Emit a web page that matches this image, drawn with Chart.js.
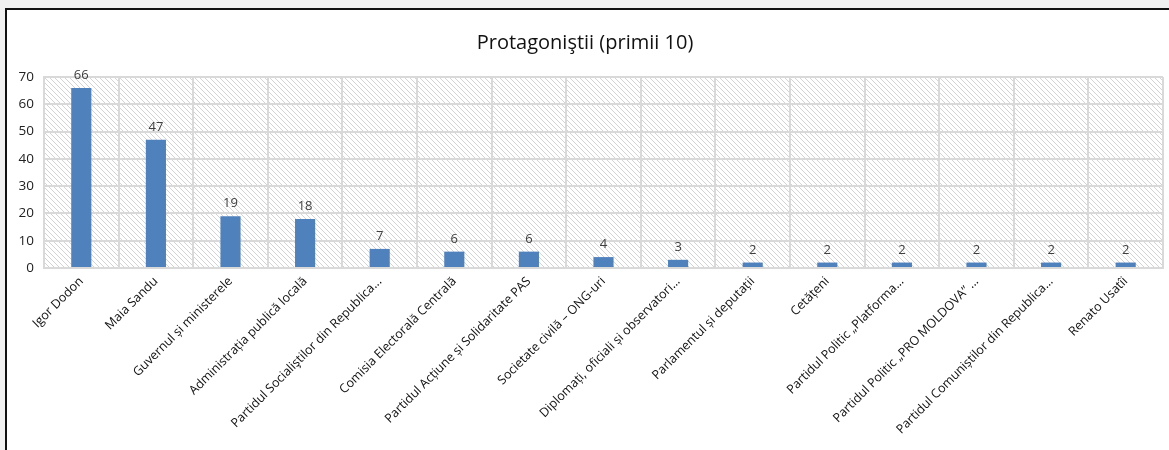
<!DOCTYPE html>
<html>
<head>
<meta charset="utf-8">
<script src="https://cdn.jsdelivr.net/npm/chart.js@4"></script>
<style>
  html, body { margin: 0; padding: 0; background: #f0f0f0; overflow: hidden; }
  #box { position: absolute; left: 5px; top: 8px; width: 1170px; height: 450px; background: #fff;
         border-left: 2px solid #111; border-top: 2px solid #111; }
  #wrap { position: absolute; left: 0; top: 0; width: 1162px; height: 440px; }
</style>
</head>
<body>
<div id="box"><div id="wrap"><canvas id="chart"></canvas></div></div>
<script>
// Protagoniştii (primii 10)
const categories = [
  'Igor Dodon', 'Maia Sandu', 'Guvernul și ministerele', 'Administrația publică locală',
  'Partidul Socialiştilor din Republica...', 'Comisia Electorală Centrală',
  'Partidul Acțiune și Solidaritate PAS', 'Societate civilă – ONG-uri',
  'Diplomați, oficiali și observatori...', 'Parlamentul și deputații', 'Cetățeni',
  'Partidul Politic „Platforma...', 'Partidul Politic „PRO MOLDOVA” ...',
  'Partidul Comuniștilor din Republica...', 'Renato Usatîi'
];
const values = [66, 47, 19, 18, 7, 6, 6, 4, 3, 2, 2, 2, 2, 2, 2];
const yTicks = [0, 10, 20, 30, 40, 50, 60, 70];

const FONT = 'Open Sans, Liberation Sans, sans-serif';

// diagonal hatch for plot area background
function makeHatch() {
  const c = document.createElement('canvas');
  c.width = 5; c.height = 5;
  const g = c.getContext('2d');
  g.fillStyle = '#fff';
  g.fillRect(0, 0, 5, 5);
  g.strokeStyle = '#d3d3d3';
  g.lineWidth = 1;
  g.beginPath();
  g.moveTo(0, 0); g.lineTo(5, 5);
  g.moveTo(-2.5, 2.5); g.lineTo(2.5, 7.5);
  g.moveTo(2.5, -2.5); g.lineTo(7.5, 2.5);
  g.stroke();
  return g.createPattern(c, 'repeat');
}

const hatchBg = {
  id: 'hatchBg',
  beforeDraw(chart) {
    const { ctx, chartArea: a } = chart;
    ctx.save();
    ctx.fillStyle = makeHatch();
    ctx.fillRect(a.left, a.top, a.right - a.left, a.bottom - a.top);
    ctx.restore();
  }
};

const valueLabels = {
  id: 'valueLabels',
  afterDatasetsDraw(chart) {
    const { ctx } = chart;
    const meta = chart.getDatasetMeta(0);
    ctx.save();
    ctx.font = '13px ' + FONT;
    ctx.fillStyle = '#404040';
    ctx.textAlign = 'center';
    ctx.textBaseline = 'bottom';
    meta.data.forEach((bar, i) => {
      ctx.fillText(values[i], bar.x, bar.y - 6);
    });
    ctx.restore();
  }
};

new Chart(document.getElementById('chart'), {
  type: 'bar',
  data: {
    labels: categories,
    datasets: [{
      data: values,
      backgroundColor: '#4f81bd',
      barPercentage: 0.27,
      categoryPercentage: 1
    }]
  },
  options: {
    responsive: true,
    maintainAspectRatio: false,
    animation: false,
    layout: { padding: { top: 0, right: 6, left: 0, bottom: 0 } },
    plugins: {
      legend: { display: false },
      tooltip: { enabled: false },
      title: {
        display: true,
        text: 'Protagoniştii (primii 10)',
        color: '#111',
        font: { family: FONT, size: 20, weight: 'normal' },
        padding: { top: 21, bottom: 22 }
      }
    },
    scales: {
      x: {
        grid: { color: '#d9d9d9', lineWidth: 2, offset: true, drawTicks: false },
        border: { color: '#d9d9d9', width: 2 },
        ticks: {
          color: '#111',
          font: { family: FONT, size: 12.5 },
          minRotation: 45, maxRotation: 45,
          autoSkip: false, padding: 6
        },
        afterFit(s) { s.height = 182; }
      },
      y: {
        min: 0, max: 70,
        afterBuildTicks(s) { s.ticks = yTicks.map(v => ({ value: v })); },
        grid: { color: '#d9d9d9', lineWidth: 2, drawTicks: false },
        border: { color: '#d9d9d9', width: 2 },
        ticks: { color: '#222', font: { family: FONT, size: 13.5 }, padding: 10 },
        afterFit(s) { s.width = 37; }
      }
    }
  },
  plugins: [hatchBg, valueLabels]
});
</script>
</body>
</html>
